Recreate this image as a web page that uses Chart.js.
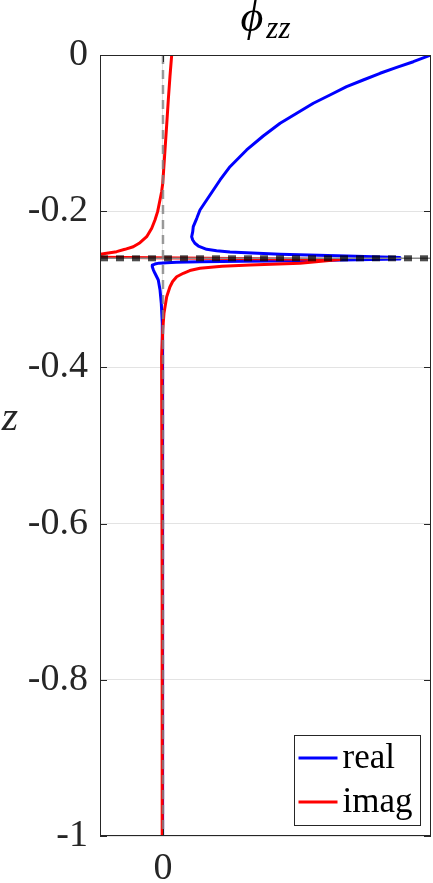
<!DOCTYPE html>
<html>
<head>
<meta charset="utf-8">
<script src="https://cdn.jsdelivr.net/npm/chart.js@4.4.1/dist/chart.umd.min.js"></script>
<style>
  html, body { margin: 0; padding: 0; background: #ffffff; }
  #wrap { width: 433px; height: 883px; }
</style>
</head>
<body>
<div id="wrap"><canvas id="c" width="433" height="883"></canvas></div>
<script>
// ---- data ----
const titleMain = "ϕ";
const titleSub = "zz";
const yLabel = "z";
const seriesNames = ["real", "imag"];

const xTicks = [0];
const xTickLabels = ["0"];
const yTicks = [0, -0.2, -0.4, -0.6, -0.8, -1];
const yTickLabels = ["0", "-0.2", "-0.4", "-0.6", "-0.8", "-1"];

const xLimits = [-0.235, 1.0];
const yLimits = [-1, 0];

// real part (blue): z values and phi values
const realZ = [0, -0.0086, -0.0158, -0.0234, -0.0320, -0.0406, -0.0512, -0.0618, -0.0747, -0.0874,
  -0.1037, -0.1216, -0.1430, -0.1600, -0.1729, -0.1857, -0.1985, -0.2091, -0.2198, -0.2262,
  -0.2327, -0.2369, -0.2411, -0.2446, -0.2488, -0.2505, -0.2522, -0.2552, -0.2574, -0.2594,
  -0.2612, -0.2634, -0.2640, -0.2647, -0.2653, -0.2659, -0.2665, -0.2676, -0.2690, -0.2711,
  -0.2750, -0.2795, -0.2881, -0.3009, -0.3180, -0.3435, -0.3905, -0.5, -0.7, -1.0];
const realX = [1.0, 0.934, 0.872, 0.810, 0.747, 0.685, 0.623, 0.561, 0.499, 0.437,
  0.374, 0.312, 0.250, 0.213, 0.188, 0.163, 0.138, 0.126, 0.113, 0.111,
  0.107, 0.111, 0.119, 0.132, 0.163, 0.200, 0.250, 0.437, 0.685, 0.884,
  0.884, 0.511, 0.300, 0.138, 0.050, 0.014, -0.015, -0.030, -0.038, -0.040,
  -0.036, -0.030, -0.0175, -0.011, -0.0063, -0.0026, -0.001, -0.0015, -0.0015, -0.0015];

// imaginary part (red)
const imagZ = [0, -0.0278, -0.0576, -0.0896, -0.1216, -0.1472, -0.1643, -0.1750, -0.1857, -0.2006,
  -0.2113, -0.2219, -0.2326, -0.2403, -0.2455, -0.2488, -0.2518, -0.2535, -0.2552, -0.2580,
  -0.2618, -0.2667, -0.2689, -0.2705, -0.2731, -0.2760, -0.2795, -0.2839, -0.2900, -0.2967,
  -0.3095, -0.3307, -0.3520, -0.3863, -0.5, -0.7, -1.0];
const imagX = [0.0325, 0.026, 0.0198, 0.0138, 0.0075, 0.0025, -0.001, -0.005, -0.0112, -0.020,
  -0.0299, -0.042, -0.0608, -0.0858, -0.111, -0.142, -0.173, -0.204, -0.235, -0.6,
  0.66, 0.511, 0.325, 0.220, 0.138, 0.100, 0.0758, 0.0511, 0.036, 0.0261,
  0.0138, 0.0037, -0.001, -0.005, -0.004, -0.003, -0.003];

// reference lines
const asymptoteZ = -0.2603;
const zeroX = 0;

// ---- build datasets ----
const toPts = (xs, zs) => xs.map((x, i) => ({ x: x, y: zs[i] }));

const SERIF = '"Liberation Serif", "DejaVu Serif", serif';
const TXT = '#262626';

const decor = {
  id: 'decor',
  afterDraw(chart) {
    const ctx = chart.ctx;
    const a = chart.chartArea;
    const xs = chart.scales.x, ys = chart.scales.y;
    ctx.save();
    // box
    ctx.strokeStyle = TXT;
    ctx.lineWidth = 1;
    ctx.strokeRect(a.left + 0.5, a.top + 0.5, a.right - a.left - 1, a.bottom - a.top - 1);
    // inward ticks
    ctx.beginPath();
    yTicks.forEach(v => {
      const p = Math.round(ys.getPixelForValue(v)) + 0.5;
      ctx.moveTo(a.left, p); ctx.lineTo(a.left + 7, p);
      ctx.moveTo(a.right, p); ctx.lineTo(a.right - 7, p);
    });
    xTicks.forEach(v => {
      const p = Math.round(xs.getPixelForValue(v)) + 0.5;
      ctx.moveTo(p, a.bottom); ctx.lineTo(p, a.bottom - 7);
      ctx.moveTo(p, a.top); ctx.lineTo(p, a.top + 7);
    });
    ctx.stroke();

    // title
    ctx.fillStyle = '#000';
    ctx.textBaseline = 'alphabetic';
    ctx.textAlign = 'left';
    const fMain = 'italic 44px ' + SERIF;
    const fSub = 'italic 31px ' + SERIF;
    ctx.font = fMain; const w1 = ctx.measureText(titleMain).width;
    ctx.font = fSub; const w2 = ctx.measureText(titleSub).width;
    const cx = (a.left + a.right) / 2;
    const x0 = cx - (w1 + 3 + w2) / 2;
    ctx.font = fMain; ctx.fillText(titleMain, x0, 31);
    ctx.font = fSub; ctx.fillText(titleSub, x0 + w1 + 3, 38);

    // y label (upright, like the reference)
    ctx.fillStyle = TXT;
    ctx.font = 'italic 42px ' + SERIF;
    ctx.textAlign = 'center';
    ctx.fillText(yLabel, 10, 430);

    // legend
    const bx = 294.5, by = 735.5, bw = 126, bh = 90;
    ctx.fillStyle = '#fff';
    ctx.fillRect(bx, by, bw, bh);
    ctx.strokeStyle = TXT;
    ctx.lineWidth = 1;
    ctx.strokeRect(bx, by, bw, bh);
    const rows = [0, 1];
    const rowY = [758, 802];
    const baseY = [768, 812];
    rows.forEach(i => {
      const ds = chart.data.datasets[i];
      ctx.strokeStyle = ds.borderColor;
      ctx.lineWidth = 3;
      ctx.beginPath();
      ctx.moveTo(bx + 4, rowY[i]); ctx.lineTo(bx + 43, rowY[i]);
      ctx.stroke();
      ctx.fillStyle = '#000';
      ctx.font = '35px ' + SERIF;
      ctx.textAlign = 'left';
      ctx.fillText(ds.label, bx + 48, baseY[i]);
    });
    ctx.restore();
  }
};

new Chart(document.getElementById('c'), {
  type: 'scatter',
  data: {
    datasets: [
      { label: seriesNames[0], data: toPts(realX, realZ), showLine: true, borderColor: '#0000ff',
        borderWidth: 3, pointRadius: 0, tension: 0, order: 5, fill: false,
        borderJoinStyle: 'round', borderCapStyle: 'round' },
      { label: seriesNames[1], data: toPts(imagX, imagZ), showLine: true, borderColor: '#ff0000',
        borderWidth: 3, pointRadius: 0, tension: 0, order: 4, fill: false,
        borderJoinStyle: 'round', borderCapStyle: 'round' },
      { label: 'asym', data: [{ x: xLimits[0], y: asymptoteZ }, { x: xLimits[1], y: asymptoteZ }],
        showLine: true, borderColor: '#8a8a8a', borderWidth: 1.5, pointRadius: 0, order: 3 },
      { label: 'asymDash', data: [{ x: xLimits[0], y: asymptoteZ }, { x: xLimits[1], y: asymptoteZ }],
        showLine: true, borderColor: 'rgba(0,0,0,0.7)', borderWidth: 6, borderDash: [8, 8],
        pointRadius: 0, order: 2 },
      { label: 'zero', data: [{ x: zeroX, y: yLimits[1] }, { x: zeroX, y: yLimits[0] }],
        showLine: true, borderColor: 'rgba(130,130,130,0.8)', borderWidth: 2.5, borderDash: [9, 6],
        pointRadius: 0, order: 1 }
    ]
  },
  options: {
    responsive: false,
    animation: false,
    devicePixelRatio: 1,
    layout: { padding: { top: 55, right: 2, left: 0, bottom: 0 } },
    plugins: { legend: { display: false }, title: { display: false }, tooltip: { enabled: false } },
    scales: {
      x: {
        type: 'linear', min: xLimits[0], max: xLimits[1],
        afterBuildTicks: s => { s.ticks = xTicks.map(v => ({ value: v })); },
        afterFit: s => { s.height = 47; },
        ticks: { callback: (v, i) => xTickLabels[i], color: TXT, padding: 10,
          font: { family: SERIF, size: 38 }, maxRotation: 0, autoSkip: false },
        grid: { color: '#e3e3e3', drawTicks: false, tickLength: 0 },
        border: { display: false }
      },
      y: {
        type: 'linear', min: yLimits[0], max: yLimits[1],
        afterBuildTicks: s => { s.ticks = yTicks.map(v => ({ value: v })); },
        afterFit: s => { s.width = 100; },
        ticks: { callback: (v, i) => yTickLabels[i], color: TXT, padding: 12,
          font: { family: SERIF, size: 38 }, autoSkip: false },
        grid: { color: '#e3e3e3', drawTicks: false, tickLength: 0 },
        border: { display: false }
      }
    }
  },
  plugins: [decor]
});
</script>
</body>
</html>
